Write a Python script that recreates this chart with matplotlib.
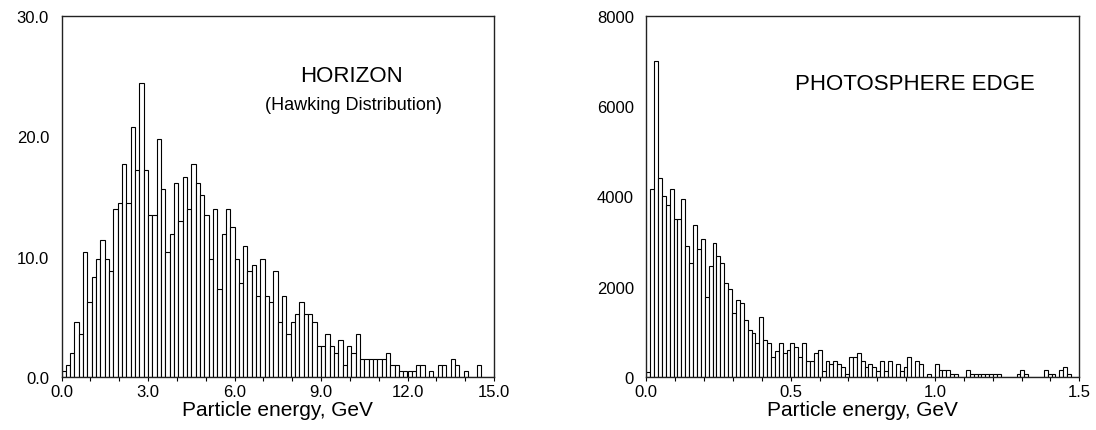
#Energieverteilung der Teilchen: Horizont und Photosphaerenrand

import numpy as np
import matplotlib.pyplot as plt
from matplotlib.ticker import MultipleLocator, FormatStrFormatter

plt.rcParams['font.family'] = ['Liberation Sans', 'DejaVu Sans']

#Horizont (Hawking-Verteilung), Bins zu 0.15 GeV
horizon_bin = 0.15
horizon_counts = [
    0.5, 1.0, 2.0, 4.6, 3.6, 10.4, 6.2, 8.3, 9.8, 11.4,
    9.8, 8.8, 14.0, 14.5, 17.7, 14.5, 20.8, 17.2, 24.4, 17.2,
    13.5, 13.5, 19.8, 15.6, 10.4, 11.9, 16.1, 13.0, 16.6, 14.0,
    17.7, 16.1, 15.1, 13.5, 9.8, 14.0, 7.3, 11.9, 14.0, 12.5,
    9.8, 7.8, 10.9, 8.8, 9.3, 6.7, 9.8, 6.7, 6.2, 8.8,
    4.6, 6.7, 3.6, 4.6, 5.2, 6.2, 5.2, 5.2, 4.6, 2.6,
    2.6, 3.6, 2.6, 2.0, 3.1, 1.0, 2.6, 2.0, 3.6, 1.5,
    1.5, 1.5, 1.5, 1.5, 1.5, 2.0, 1.0, 1.0, 0.5, 0.5,
    0.5, 0.5, 1.0, 1.0, 0.0, 0.5, 0.0, 1.0, 1.0, 0.0,
    1.5, 1.0, 0.0, 0.5, 0.0, 0.0, 1.0, 0.0, 0.0, 0.0,
]
horizon_ticks = [0.0, 3.0, 6.0, 9.0, 12.0, 15.0]
horizon_yticks = [0.0, 10.0, 20.0, 30.0]

#Photosphaerenrand, Bins zu 0.0135 GeV
photo_bin = 0.0135
photo_counts = [
    100, 4170, 7013, 4405, 4008, 3816, 4170, 3507, 3507, 3949,
    2903, 2534, 3360, 2829, 3050, 1783, 2460, 2976, 2681, 2534,
    2078, 1945, 1414, 1709, 1635, 1267, 1046, 972, 751, 1340,
    825, 751, 442, 582, 751, 523, 597, 744, 670, 442,
    744, 361, 361, 523, 597, 140, 361, 287, 361, 287,
    214, 66, 435, 435, 523, 361, 214, 287, 214, 140,
    361, 140, 361, 0, 287, 140, 214, 435, 0, 361,
    287, 0, 66, 0, 290, 160, 160, 160, 75, 75,
    0, 0, 150, 75, 75, 75, 75, 75, 75, 75,
    75, 0, 0, 0, 0, 75, 150, 75, 0, 0,
    0, 0, 150, 75, 75, 0, 150, 220, 75, 0,
    0,
]
photo_ticks = [0.0, 0.5, 1.0, 1.5]
photo_yticks = [0, 2000, 4000, 6000, 8000]

W, H = 1096, 431
fig = plt.figure(figsize=(W/100, H/100), dpi=100)
ax1 = fig.add_axes([61.5/W, 1 - 378/H, 432.5/W, 361/H])
ax2 = fig.add_axes([646.3/W, 1 - 378/H, 433/W, 361/H])

def draw_hist(ax, counts, width):
    edges = np.arange(len(counts)) * width
    ax.bar(edges, counts, width=width, align='edge',
           facecolor='white', edgecolor='black', linewidth=0.8)
    for s in ax.spines.values():
        s.set_linewidth(1.0)
        s.set_color('#222222')
    ax.tick_params(axis='x', direction='out', length=3, width=0.8,
                   labelsize=12, pad=2)
    ax.tick_params(axis='x', which='minor', direction='out', length=3, width=0.8)
    ax.tick_params(axis='y', length=0, labelsize=12, pad=9)
    ax.set_xlabel('Particle energy, GeV', fontsize=15, labelpad=1)

draw_hist(ax1, horizon_counts, horizon_bin)
ax1.set_xlim(0, 15)
ax1.set_ylim(0, 30)
ax1.set_xticks(horizon_ticks)
ax1.set_yticks(horizon_yticks)
ax1.xaxis.set_minor_locator(MultipleLocator(1.0))
ax1.xaxis.set_major_formatter(FormatStrFormatter('%.1f'))
ax1.yaxis.set_major_formatter(FormatStrFormatter('%.1f'))
ax1.text(0.67, 0.835, 'HORIZON', transform=ax1.transAxes,
         ha='center', va='center', fontsize=16)
ax1.text(0.675, 0.755, '(Hawking Distribution)', transform=ax1.transAxes,
         ha='center', va='center', fontsize=13)

draw_hist(ax2, photo_counts, photo_bin)
ax2.set_xlim(0, 1.5)
ax2.set_ylim(0, 8000)
ax2.set_xticks(photo_ticks)
ax2.set_yticks(photo_yticks)
ax2.xaxis.set_minor_locator(MultipleLocator(0.1))
ax2.xaxis.set_major_formatter(FormatStrFormatter('%.1f'))
ax2.text(0.62, 0.814, 'PHOTOSPHERE EDGE', transform=ax2.transAxes,
         ha='center', va='center', fontsize=16)

fig.savefig('out.png', dpi=100)
